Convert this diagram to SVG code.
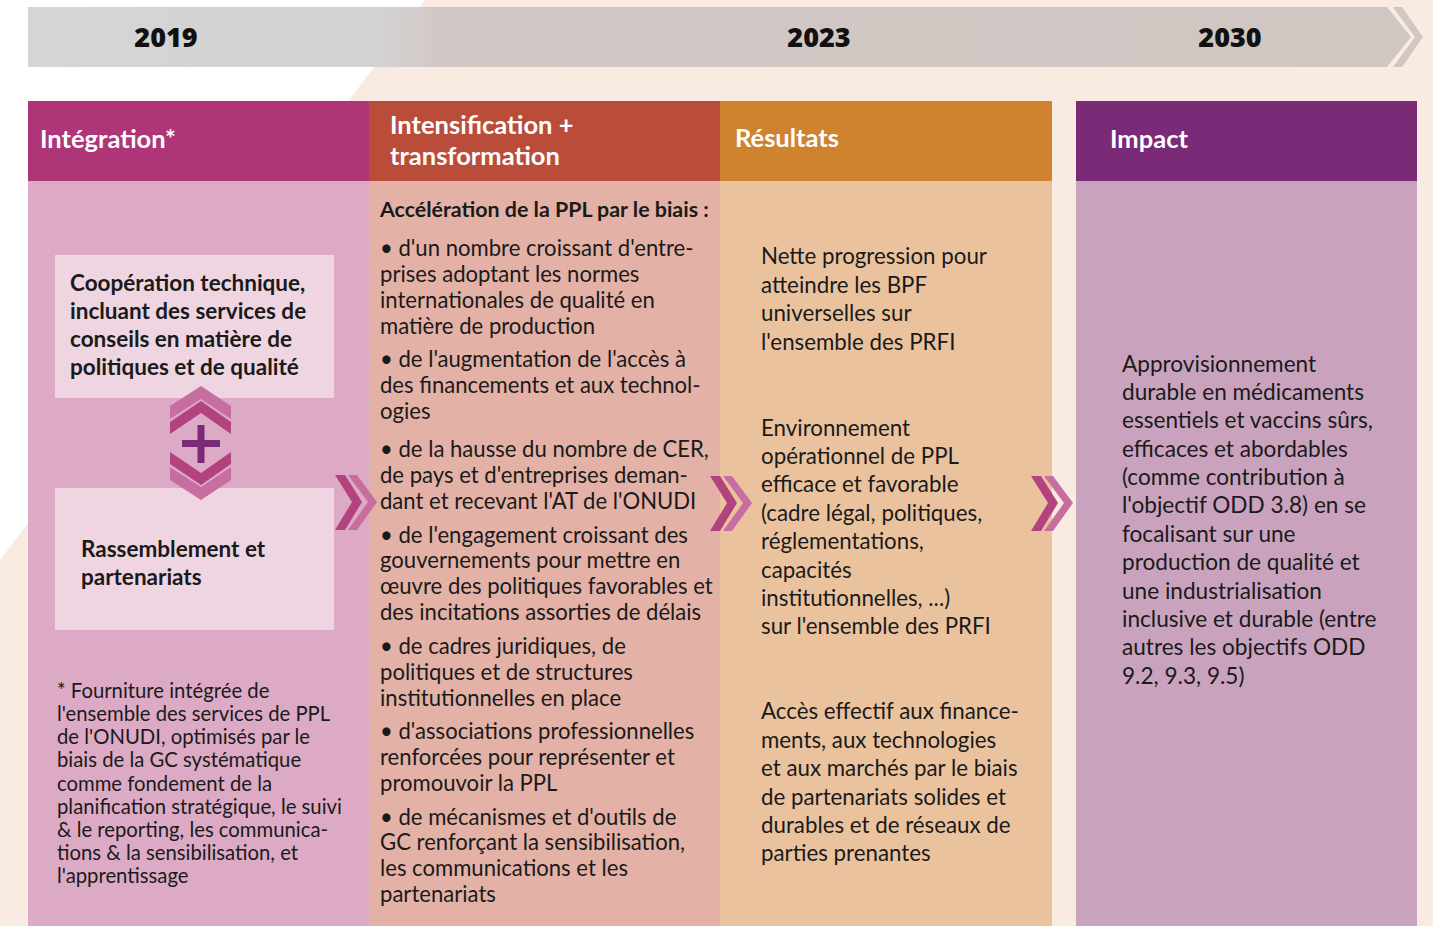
<svg xmlns="http://www.w3.org/2000/svg" xmlns:xlink="http://www.w3.org/1999/xlink" width="1433" height="926" viewBox="0 0 1433 926">
<style>
.yr{font-family:"Open Sans","Liberation Sans",sans-serif;font-weight:800;font-size:27px;fill:#111}
.hd{font-family:Lato,"Liberation Sans",sans-serif;font-weight:700;font-size:25.5px;fill:#fff}
.bx{font-family:Lato,"Liberation Sans",sans-serif;font-weight:700;font-size:22.5px;fill:#1a1a1a}
.tx{font-family:Lato,"Liberation Sans",sans-serif;font-size:22.6px;fill:#1a1a1a}
.t2{font-family:Lato,"Liberation Sans",sans-serif;font-size:22.1px;fill:#1a1a1a}
.t3{font-family:Lato,"Liberation Sans",sans-serif;font-size:22.3px;fill:#1a1a1a}
.fn{font-family:Lato,"Liberation Sans",sans-serif;font-size:20.3px;fill:#1a1a1a}
.b2{font-family:Lato,"Liberation Sans",sans-serif;font-weight:700;font-size:21.4px;fill:#1a1a1a}
</style>
<defs>
<linearGradient id="ban" x1="0" y1="0" x2="1" y2="0">
<stop offset="0" stop-color="#d5d5d5"/><stop offset="0.25" stop-color="#d4d3d3"/><stop offset="0.3" stop-color="#d1c8c5"/><stop offset="1" stop-color="#d0c6c2"/>
</linearGradient>
<g id="chev">
<polygon points="13,0 22,0 42,27 22,55 13,55 33,27" fill="#c86da0"/>
<polygon points="0,0 10,0 27,27 10,55 0,55 17,27" fill="#b3437f"/>
</g>
</defs>
<rect width="1433" height="926" fill="#ffffff"/>
<polygon points="425,0 1433,0 1433,926 0,926 0,560" fill="#f9eae2"/>

<g id="timeline">
<polygon points="28,7 1387,7 1411,37 1387,67 28,67" fill="url(#ban)"/>
<polygon points="1393,7 1402,7 1423,37 1402,67 1393,67 1415,37" fill="#d0c6c2"/>
<text class="yr" x="166" y="47" text-anchor="middle">2019</text>
<text class="yr" x="819" y="47" text-anchor="middle">2023</text>
<text class="yr" x="1230" y="47" text-anchor="middle">2030</text>
</g>

<g id="col-integration">
<rect x="28" y="181" width="341" height="745" fill="#dcaac4"/>
<rect x="28" y="101" width="341" height="80" fill="#ae3577"/>
<text class="hd" x="40" y="148">Intégration*</text>
<g id="box-cooperation">
<rect x="55" y="255" width="279" height="143" fill="#efd5e1"/>
<text class="bx"><tspan x="70" y="291">Coopération technique,</tspan><tspan x="70" y="319">incluant des services de</tspan><tspan x="70" y="347">conseils en matière de</tspan><tspan x="70" y="375">politiques et de qualité</tspan></text>
</g>
<g id="box-rassemblement">
<rect x="55" y="488" width="279" height="142" fill="#efd5e1"/>
<text class="bx"><tspan x="81" y="557">Rassemblement et</tspan><tspan x="81" y="585">partenariats</tspan></text>
</g>
<g id="plus-icon">
<polygon points="170,406 201,386 231,406 231,419 201,399 170,419" fill="#c86da0"/>
<polygon points="170,422 201,401 231,422 231,434 201,413 170,434" fill="#b3437f"/>
<polygon points="170,452 201,473 231,452 231,464 201,485 170,464" fill="#b3437f"/>
<polygon points="170,467 201,487 231,467 231,480 201,500 170,480" fill="#c86da0"/>
<rect x="182" y="440" width="38" height="7" fill="#7a2a77"/>
<rect x="197.5" y="425" width="7" height="38" fill="#7a2a77"/>
</g>
<text class="fn"><tspan x="57" y="698">* Fourniture intégrée de</tspan><tspan x="57" y="721">l'ensemble des services de PPL</tspan><tspan x="57" y="744">de l'ONUDI, optimisés par le</tspan><tspan x="57" y="767">biais de la GC systématique</tspan><tspan x="57" y="791">comme fondement de la</tspan><tspan x="57" y="814">planification stratégique, le suivi</tspan><tspan x="57" y="837">&amp; le reporting, les communica-</tspan><tspan x="57" y="860">tions &amp; la sensibilisation, et</tspan><tspan x="57" y="883">l'apprentissage</tspan></text>
</g>

<g id="col-intensification">
<rect x="369" y="181" width="351" height="745" fill="#e3b1a6"/>
<rect x="369" y="101" width="351" height="80" fill="#b94d3a"/>
<text class="hd"><tspan x="390" y="134">Intensification +</tspan><tspan x="390" y="165">transformation</tspan></text>
<text class="b2" x="380" y="217">Accélération de la PPL par le biais :</text>
<text class="t2">
<tspan x="380" y="256">• d'un nombre croissant d'entre-</tspan>
<tspan x="380" y="282">prises adoptant les normes</tspan>
<tspan x="380" y="308">internationales de qualité en</tspan>
<tspan x="380" y="334">matière de production</tspan>
<tspan x="380" y="367">• de l'augmentation de l'accès à</tspan>
<tspan x="380" y="393">des financements et aux technol-</tspan>
<tspan x="380" y="419">ogies</tspan>
<tspan x="380" y="457">• de la hausse du nombre de CER,</tspan>
<tspan x="380" y="483">de pays et d'entreprises deman-</tspan>
<tspan x="380" y="509">dant et recevant l'AT de l'ONUDI</tspan>
<tspan x="380" y="543">• de l'engagement croissant des</tspan>
<tspan x="380" y="568">gouvernements pour mettre en</tspan>
<tspan x="380" y="594">œuvre des politiques favorables et</tspan>
<tspan x="380" y="620">des incitations assorties de délais</tspan>
<tspan x="380" y="654">• de cadres juridiques, de</tspan>
<tspan x="380" y="680">politiques et de structures</tspan>
<tspan x="380" y="706">institutionnelles en place</tspan>
<tspan x="380" y="739">• d'associations professionnelles</tspan>
<tspan x="380" y="765">renforcées pour représenter et</tspan>
<tspan x="380" y="791">promouvoir la PPL</tspan>
<tspan x="380" y="825">• de mécanismes et d'outils de</tspan>
<tspan x="380" y="850">GC renforçant la sensibilisation,</tspan>
<tspan x="380" y="876">les communications et les</tspan>
<tspan x="380" y="902">partenariats</tspan>
</text>
</g>

<g id="col-resultats">
<rect x="720" y="181" width="332" height="745" fill="#eac39e"/>
<rect x="720" y="101" width="332" height="80" fill="#cf832f"/>
<text class="hd" x="735" y="147">Résultats</text>
<text class="t3">
<tspan x="761" y="264">Nette progression pour</tspan>
<tspan x="761" y="293">atteindre les BPF</tspan>
<tspan x="761" y="321">universelles sur</tspan>
<tspan x="761" y="350">l'ensemble des PRFI</tspan>
<tspan x="761" y="436">Environnement</tspan>
<tspan x="761" y="464">opérationnel de PPL</tspan>
<tspan x="761" y="492">efficace et favorable</tspan>
<tspan x="761" y="521">(cadre légal, politiques,</tspan>
<tspan x="761" y="549">réglementations,</tspan>
<tspan x="761" y="578">capacités</tspan>
<tspan x="761" y="606">institutionnelles, ...)</tspan>
<tspan x="761" y="634">sur l'ensemble des PRFI</tspan>
<tspan x="761" y="719">Accès effectif aux finance-</tspan>
<tspan x="761" y="748">ments, aux technologies</tspan>
<tspan x="761" y="776">et aux marchés par le biais</tspan>
<tspan x="761" y="805">de partenariats solides et</tspan>
<tspan x="761" y="833">durables et de réseaux de</tspan>
<tspan x="761" y="861">parties prenantes</tspan>
</text>
</g>

<g id="col-impact">
<rect x="1076" y="181" width="341" height="745" fill="#c9a3be"/>
<rect x="1076" y="101" width="341" height="80" fill="#7a2a77"/>
<text class="hd" x="1110" y="148">Impact</text>
<text class="tx">
<tspan x="1122" y="372">Approvisionnement</tspan>
<tspan x="1122" y="400">durable en médicaments</tspan>
<tspan x="1122" y="428">essentiels et vaccins sûrs,</tspan>
<tspan x="1122" y="457">efficaces et abordables</tspan>
<tspan x="1122" y="485">(comme contribution à</tspan>
<tspan x="1122" y="513">l'objectif ODD 3.8) en se</tspan>
<tspan x="1122" y="542">focalisant sur une</tspan>
<tspan x="1122" y="570">production de qualité et</tspan>
<tspan x="1122" y="599">une industrialisation</tspan>
<tspan x="1122" y="627">inclusive et durable (entre</tspan>
<tspan x="1122" y="655">autres les objectifs ODD</tspan>
<tspan x="1122" y="684">9.2, 9.3, 9.5)</tspan>
</text>
</g>

<g id="connectors">
<use xlink:href="#chev" x="335" y="475"/>
<use xlink:href="#chev" x="710" y="476"/>
<use xlink:href="#chev" x="1031" y="476"/>
</g>
</svg>
